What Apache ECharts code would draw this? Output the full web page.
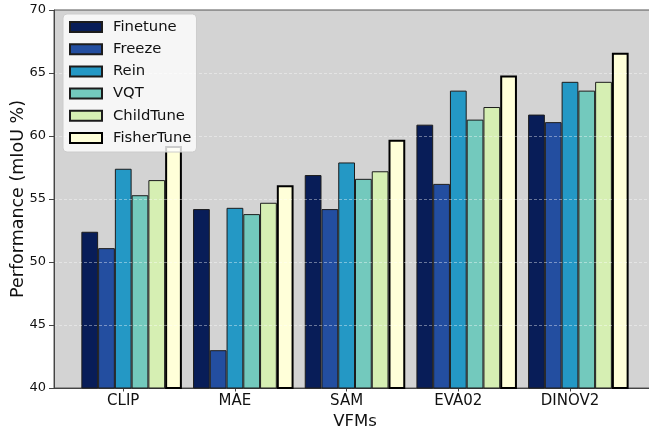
<!DOCTYPE html>
<html>
<head>
<meta charset="utf-8">
<script src="https://cdn.jsdelivr.net/npm/echarts@6/dist/echarts.min.js"></script>
<style>
  html, body { margin: 0; padding: 0; background: #ffffff; }
  #chart { width: 649px; height: 427px; }
</style>
</head>
<body>
<div id="chart"></div>
<script>
// Vision foundation models on the x axis
const categories = ['CLIP', 'MAE', 'SAM', 'EVA02', 'DINOV2'];

// Tuning methods, one bar per method in each group
const methods = ['Finetune', 'Freeze', 'Rein', 'VQT', 'ChildTune', 'FisherTune'];

// mIoU (%) per method, ordered as categories
const finetune   = [52.4, 54.2, 56.9, 60.9, 61.7];
const freeze     = [51.1, 43.0, 54.2, 56.2, 61.1];
const rein       = [57.4, 54.3, 57.9, 63.6, 64.3];
const vqt        = [55.3, 53.8, 56.6, 61.3, 63.6];
const childTune  = [56.5, 54.7, 57.2, 62.3, 64.3];
const fisherTune = [59.2, 56.1, 59.7, 64.8, 66.6];

// y-axis ticks
const yTicks = [40, 45, 50, 55, 60, 65, 70];

const seriesValues = [finetune, freeze, rein, vqt, childTune, fisherTune];
const colors = ['#081d58', '#234ea0', '#2498c5', '#73c9bd', '#d6efb3', '#ffffd9'];

// Layout of the bar groups (in x-axis units)
const barUnit = 0.15;          // width of one bar
const xMin = -0.62, xMax = 4.77;
const gridLeft = 54, gridRight = -7;
const gridWidth = 649 - gridLeft - gridRight;
const unitPx = gridWidth / (xMax - xMin);

const series = methods.map((name, i) => {
  const isFisher = name === 'FisherTune';
  return {
    name: name,
    type: 'bar',
    barWidth: barUnit * unitPx,
    barGap: '-100%',
    data: seriesValues[i].map((v, j) => [j + (i - 2) * barUnit, v]),
    itemStyle: {
      color: colors[i],
      borderColor: isFisher ? '#000000' : '#1c1c1c',
      borderWidth: isFisher ? 2 : 1
    },
    emphasis: { disabled: true }
  };
});

const chart = echarts.init(document.getElementById('chart'), null, { renderer: 'canvas' });
chart.setOption({
  animation: false,
  textStyle: { fontFamily: 'DejaVu Sans' },
  grid: {
    left: gridLeft, right: gridRight, top: 10, bottom: 39,
    containLabel: false,
    outerBoundsMode: 'none',
    show: true, backgroundColor: '#d3d3d3', borderColor: '#555555', borderWidth: 1
  },
  legend: {
    orient: 'vertical',
    left: 63, top: 14,
    padding: [5, 5, 6, 6],
    itemWidth: 32, itemHeight: 10,
    itemGap: 6.2, itemTextGap: 12,
    icon: 'rect',
    backgroundColor: 'rgba(255,255,255,0.8)',
    borderColor: '#cccccc', borderWidth: 1, borderRadius: 4,
    data: methods,
    textStyle: {
      fontFamily: 'DejaVu Sans', fontSize: 14.8, lineHeight: 16, color: '#111111',
      padding: [0, 0, 0, 6]
    }
  },
  xAxis: {
    type: 'value',
    min: xMin, max: xMax,
    splitLine: { show: false },
    axisLine: { show: true, onZero: false, lineStyle: { color: '#444444', width: 1 } },
    axisTick: {
      show: true, length: 3.5, customValues: [0, 1, 2, 3, 4],
      lineStyle: { color: '#444444' }
    },
    axisLabel: {
      customValues: [0, 1, 2, 3, 4],
      formatter: v => categories[Math.round(v)],
      fontFamily: 'DejaVu Sans', fontSize: 15, color: '#111111', margin: 6
    },
    name: 'VFMs',
    nameLocation: 'middle',
    nameGap: 25,
    nameMoveOverlap: false,
    nameTextStyle: { fontFamily: 'DejaVu Sans', fontSize: 16.5, color: '#111111' }
  },
  yAxis: {
    type: 'value',
    min: yTicks[0], max: yTicks[yTicks.length - 1], interval: 5,
    z: 3,
    axisLine: { show: true, onZero: false, lineStyle: { color: '#444444', width: 1 } },
    axisTick: { show: true, length: 5, lineStyle: { color: '#444444' } },
    axisLabel: { fontFamily: 'DejaVu Sans', fontSize: 13, color: '#111111', margin: 8 },
    splitLine: {
      show: true, showMinLine: false, showMaxLine: false,
      lineStyle: { color: 'rgba(255,255,255,0.4)', type: [3, 2], width: 1 }
    },
    name: 'Performance (mIoU %)',
    nameLocation: 'middle',
    nameGap: 27,
    nameMoveOverlap: false,
    nameTextStyle: { fontFamily: 'DejaVu Sans', fontSize: 17.5, color: '#111111' }
  },
  series: series
});
</script>
</body>
</html>
